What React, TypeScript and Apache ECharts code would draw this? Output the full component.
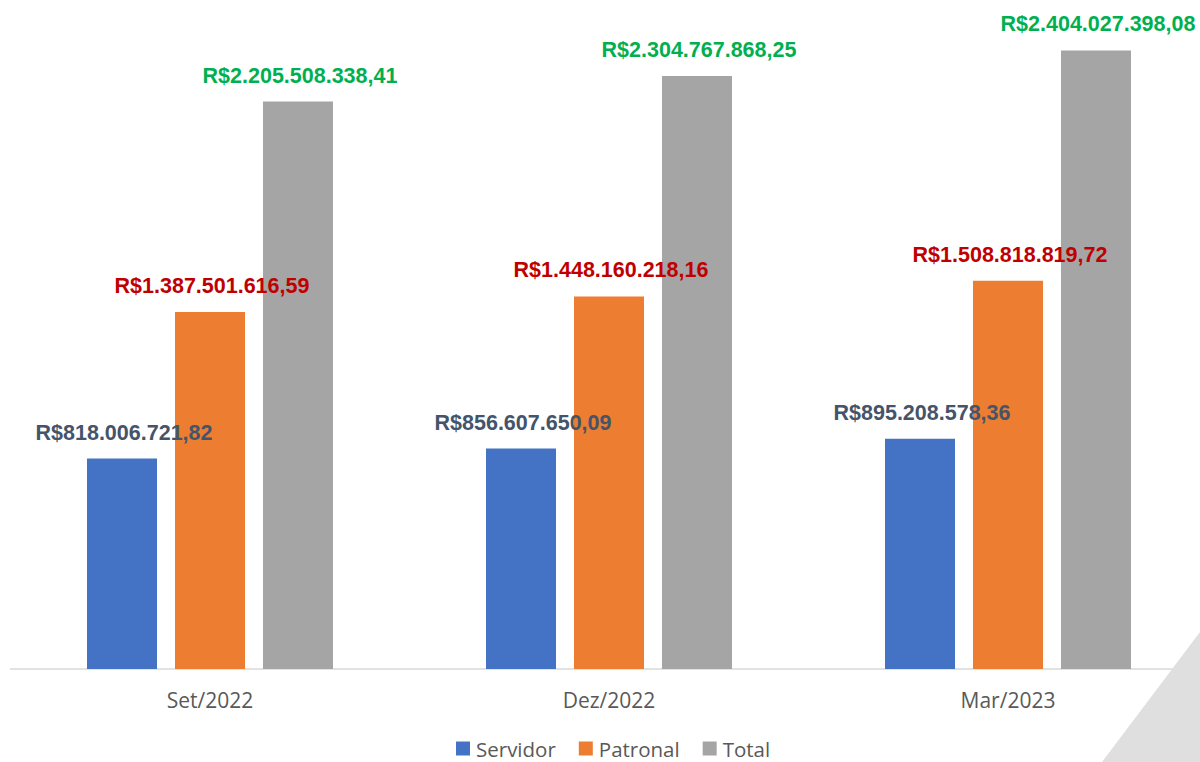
import React, { useEffect, useRef } from "react";
import * as echarts from "echarts";

const categories = ["Set/2022", "Dez/2022", "Mar/2023"];
const seriesNames = ["Servidor", "Patronal", "Total"];
const servidor = [818006721.82, 856607650.09, 895208578.36];
const patronal = [1387501616.59, 1448160218.16, 1508818819.72];
const total = [2205508338.41, 2304767868.25, 2404027398.08];

const barColors = ["#4472C4", "#ED7D31", "#A5A5A5"];
const labelColors = ["#44546A", "#C00000", "#00B050"];

function fmtBRL(v: number): string {
  const fixed = v.toFixed(2);
  const [intPart, dec] = fixed.split(".");
  const withDots = intPart.replace(/\B(?=(\d{3})+(?!\d))/g, ".");
  return "R$" + withDots + "," + dec;
}

export default function App() {
  const ref = useRef<HTMLDivElement>(null);
  useEffect(() => {
    if (!ref.current) return;
    const chart = echarts.init(ref.current, null, { renderer: "svg" });
    const data = [servidor, patronal, total];
    chart.setOption({
      animation: false,
      backgroundColor: "#FFFFFF",
      textStyle: { fontFamily: "Open Sans" },
      grid: { left: 10.5, top: 0, width: 1197, height: 669, containLabel: false },
      xAxis: {
        type: "category",
        data: categories,
        axisLine: { lineStyle: { color: "#D9D9D9", width: 1.5 } },
        axisTick: { show: false },
        axisLabel: { color: "#595959", fontSize: 21, margin: 20, fontFamily: "Open Sans" },
      },
      yAxis: {
        type: "value",
        min: 0,
        max: 2600000000,
        show: false,
        splitLine: { show: false },
      },
      legend: {
        data: seriesNames,
        top: 738,
        left: 456,
        itemWidth: 14,
        itemHeight: 14,
        itemGap: 23,
        icon: "rect",
        textStyle: { color: "#595959", fontSize: 20.5, fontFamily: "Open Sans", lineHeight: 20, padding: [0, 0, 0, 1] },
        padding: [0, 0, 0, 0],
      },
      series: seriesNames.map((name, i) => ({
        name,
        type: "bar",
        data: data[i],
        barWidth: 70,
        barGap: "25.7%",
        itemStyle: { color: barColors[i] },
        label: {
          show: true,
          position: "top",
          distance: 15,
          offset: [2, 0],
          color: labelColors[i],
          fontSize: 21.5,
          fontWeight: "bold",
          fontFamily: "Liberation Sans",
          formatter: (p: any) => fmtBRL(p.value),
        },
        z: 2,
      })),
      graphic: [
        {
          type: "polygon",
          shape: { points: [[1200, 632], [1102, 762], [1200, 762]] },
          style: { fill: "#DFDFDF" },
          z: 1,
        },
      ],
    });
    return () => chart.dispose();
  }, []);
  return (
    <div
      style={{ position: "fixed", left: 0, top: 0, width: 1200, height: 762, overflow: "hidden", background: "#fff" }}
    >
      <div ref={ref} style={{ width: 1210, height: 762 }} />
    </div>
  );
}
